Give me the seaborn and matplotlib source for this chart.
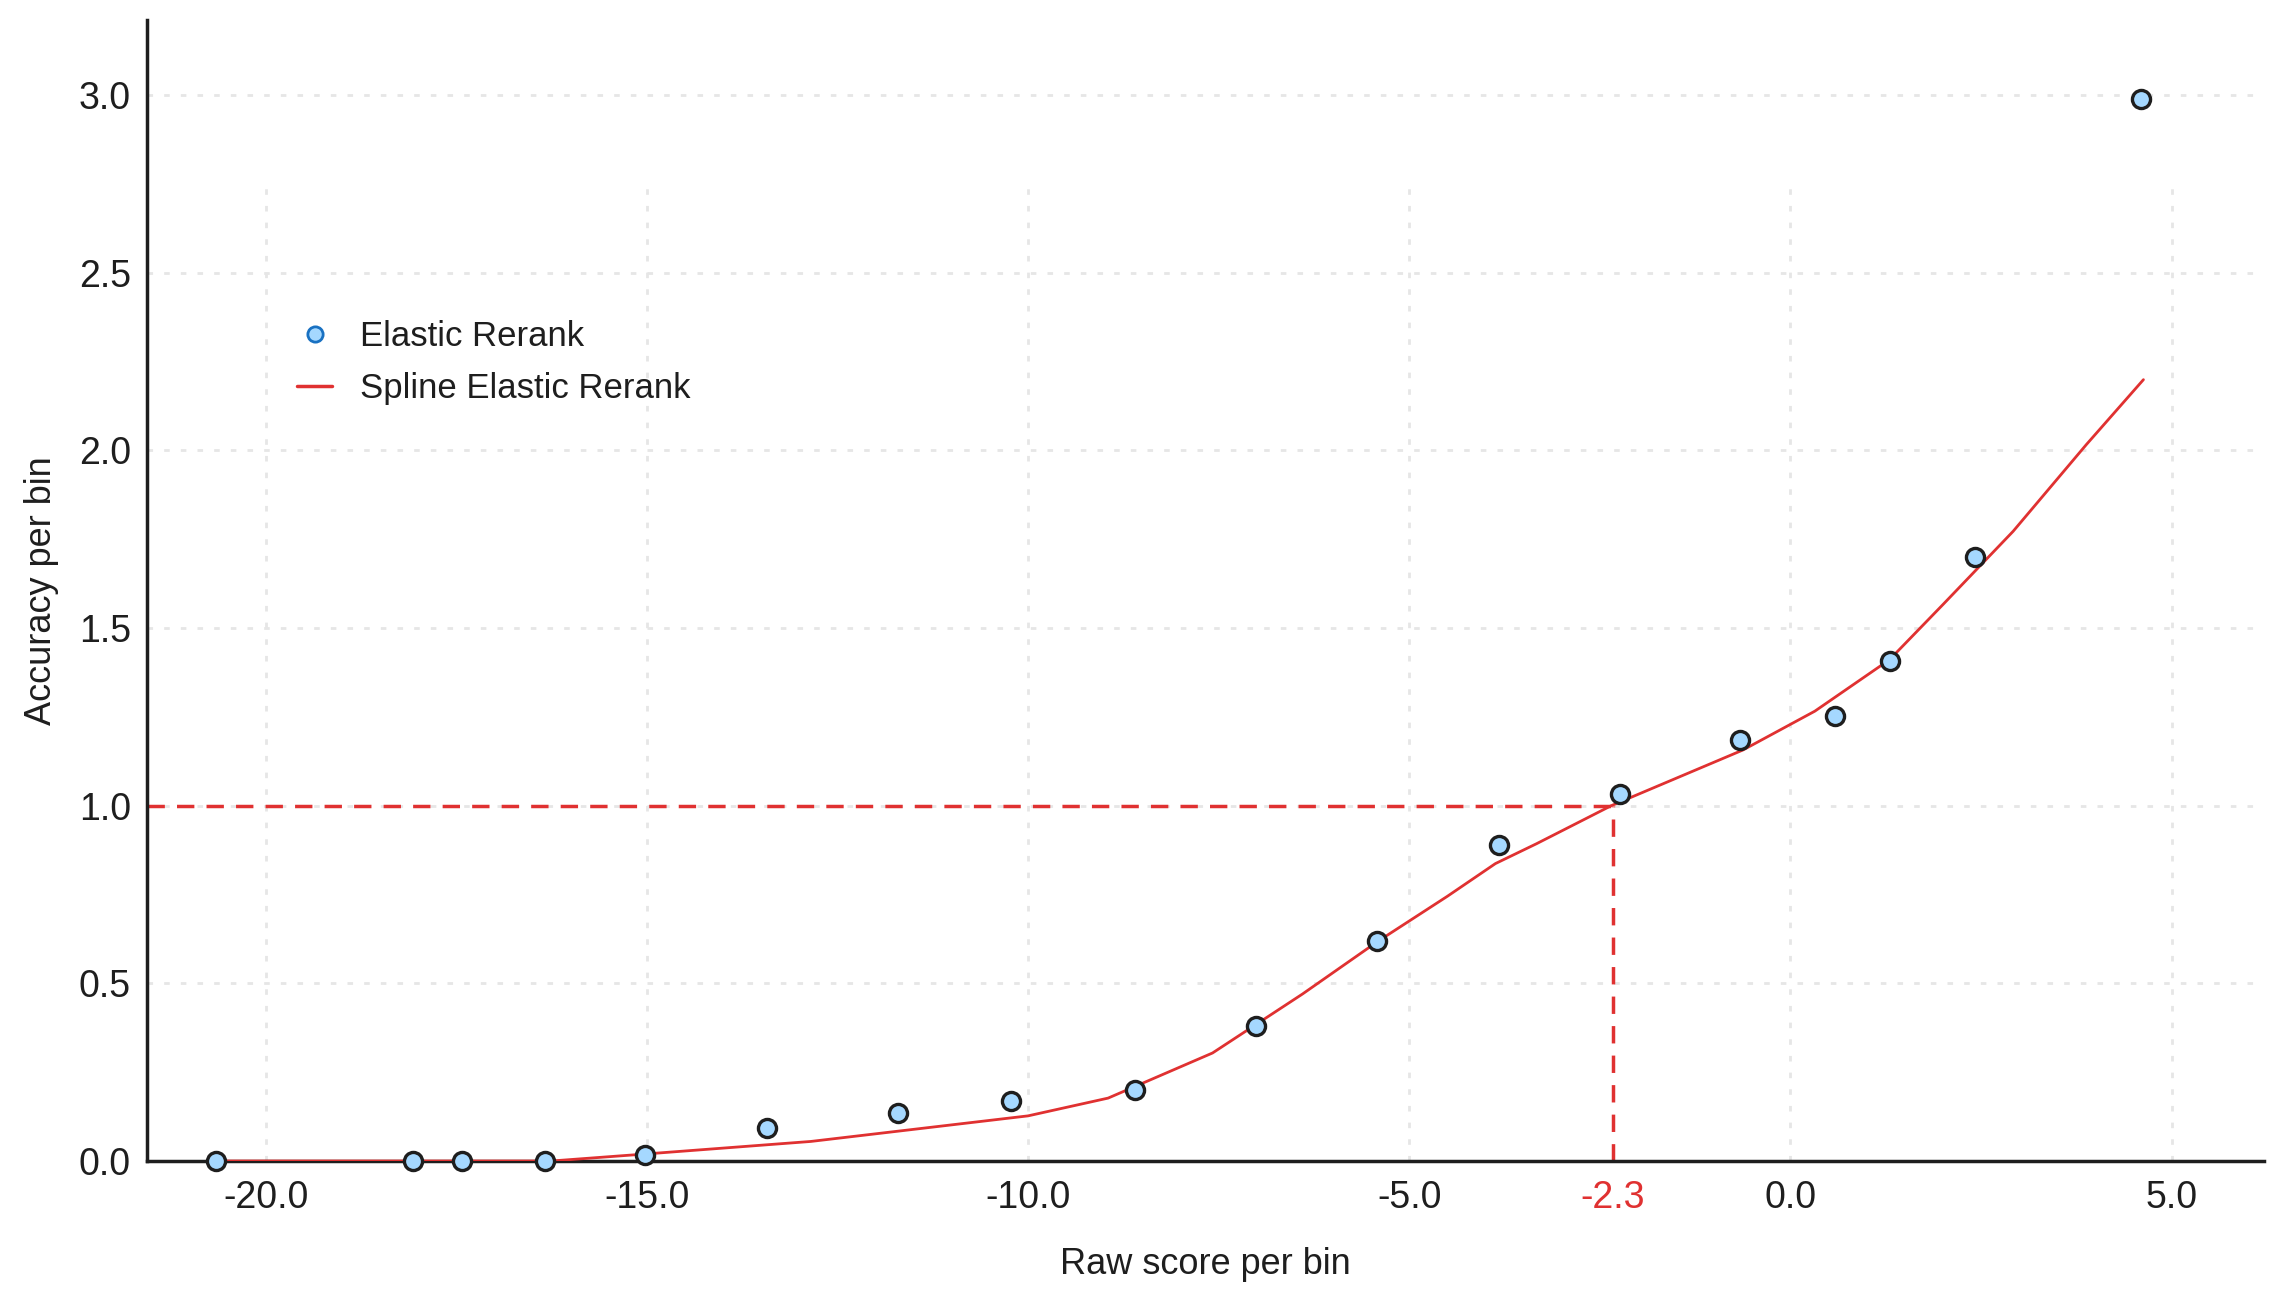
import matplotlib
matplotlib.use("Agg")
import matplotlib.pyplot as plt
from matplotlib.lines import Line2D
import seaborn as sns
import pandas as pd

# binned raw score vs accuracy
bin_score = [-20.65, -18.07, -17.42, -16.34, -15.02, -13.43, -11.70, -10.23, -8.60,
             -7.01, -5.42, -3.82, -2.23, -0.66, 0.58, 1.30, 2.42, 4.60]
bin_acc = [0.0, 0.0, 0.0, 0.0, 0.018, 0.093, 0.135, 0.168, 0.20,
           0.38, 0.618, 0.889, 1.034, 1.186, 1.251, 1.407, 1.70, 2.99]

# spline fit through the bins
spline_score = [-20.65, -16.25, -15.0, -12.85, -10.0, -8.95, -7.58, -6.4, -5.42, -4.5,
                -3.87, -3.33, -2.35, -0.62, 0.32, 1.30, 2.0, 2.92, 3.88, 4.63]
spline_acc = [0.0, 0.0, 0.02, 0.055, 0.127, 0.177, 0.304, 0.47, 0.617, 0.745,
              0.837, 0.893, 1.0, 1.157, 1.266, 1.411, 1.566, 1.772, 2.016, 2.199]

threshold_score = -2.33
threshold_acc = 1.0

xticks = [-20.0, -15.0, -10.0, -5.0, 0.0, 5.0]
yticks = [0.0, 0.5, 1.0, 1.5, 2.0, 2.5, 3.0]

RED = "#e03131"
FILL = "#a5d8ff"

sns.set_style("white")
plt.rcParams["font.family"] = ["Liberation Sans", "DejaVu Sans"]

bins = pd.DataFrame({"score": bin_score, "acc": bin_acc})
spline = pd.DataFrame({"score": spline_score, "acc": spline_acc})

fig = plt.figure(figsize=(22.9, 13.02), dpi=100)
ax = fig.add_axes([0.0644, 0.1083, 0.9242, 0.876])

xmin, xmax = -21.55, 6.21
ymax = 3.21
ax.set_xlim(xmin, xmax)
ax.set_ylim(0, ymax)

# grid: horizontal lines full width, vertical ones stop short of the top
for y in yticks[1:]:
    ax.axhline(y, color="#e6e6e6", lw=2, ls=(0, (2, 4)), zorder=0)
for x in xticks:
    ax.axvline(x, ymin=0, ymax=2.76 / ymax, color="#e6e6e6", lw=2, ls=(0, (2, 4)), zorder=0)

sns.lineplot(data=spline, x="score", y="acc", ax=ax, color=RED, lw=2,
             sort=False, estimator=None, zorder=3)
sns.scatterplot(data=bins, x="score", y="acc", ax=ax, s=170, color=FILL,
                edgecolor="#1e1e1e", linewidth=2.4, zorder=4, clip_on=False)

# threshold guide lines
ax.plot([xmin, threshold_score], [threshold_acc, threshold_acc], color=RED, lw=2.5,
        ls=(0, (5, 3.5)), zorder=2)
ax.plot([threshold_score, threshold_score], [0, threshold_acc], color=RED, lw=2.5,
        ls=(0, (5, 3.5)), zorder=2)

ax.set_xticks(xticks + [threshold_score])
ax.set_xticklabels([f"{t:.1f}" for t in xticks] + [f"{threshold_score:.1f}"])
ax.set_yticks(yticks)
ax.set_yticklabels([f"{t:.1f}" for t in yticks])
ax.tick_params(axis="both", labelsize=27, length=6, width=1.5, color="#1e1e1e",
               labelcolor="#1e1e1e", direction="out")
ax.tick_params(axis="x", pad=8)
ax.tick_params(axis="y", pad=6)
ax.get_xticklabels()[-1].set_color(RED)

ax.set_xlabel("Raw score per bin", fontsize=26, color="#1e1e1e", labelpad=22)
ax.set_ylabel("Accuracy per bin", fontsize=26, color="#1e1e1e", labelpad=14)

sns.despine(ax=ax)
for side in ["left", "bottom"]:
    ax.spines[side].set_linewidth(2.5)
    ax.spines[side].set_color("#1e1e1e")

handles = [
    Line2D([], [], marker="o", ls="", markersize=11, markerfacecolor=FILL,
           markeredgecolor="#1971c2", markeredgewidth=2),
    Line2D([], [], color=RED, lw=2.5),
]
ax.legend(handles, ["Elastic Rerank", "Spline Elastic Rerank"], loc="upper left",
          bbox_to_anchor=(0.056, 0.765), frameon=False, fontsize=25,
          handlelength=1.0, handletextpad=0.8, labelspacing=0.55,
          labelcolor="#1e1e1e")

fig.savefig("out.png", dpi=100)
